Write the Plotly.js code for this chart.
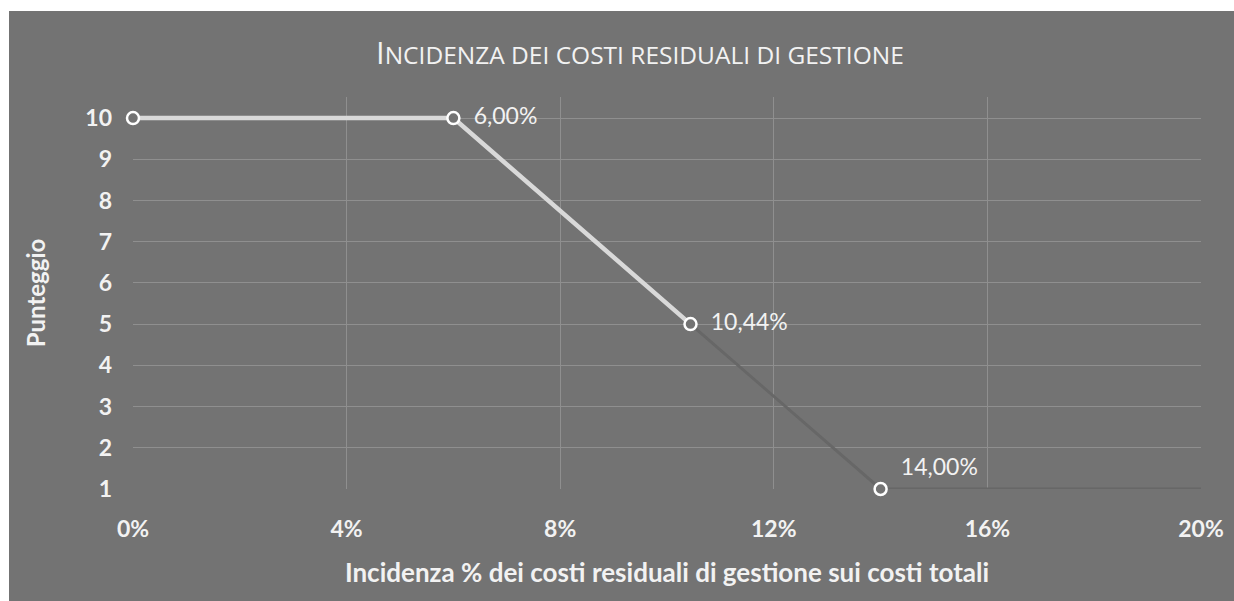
<!DOCTYPE html>
<html>
<head>
<meta charset="utf-8">
<script src="https://cdn.plot.ly/plotly-3.0.1.min.js"></script>
<style>
  html, body { margin: 0; padding: 0; background: #ffffff; }
  #chart { position: absolute; left: 9px; top: 11px; width: 1225px; height: 590px; }
</style>
</head>
<body>
<div id="chart"></div>
<script>
// Data
const lightX = [0, 6, 10.44];
const lightY = [10, 10, 5];
const darkX = [10.44, 14, 20];
const darkY = [5, 1, 1];
const pointX = [0, 6, 10.44, 14];
const pointY = [10, 10, 5, 1];
const pointLabels = ["", "6,00%", "10,44%", "14,00%"];
const labelPositions = ["middle right", "middle right", "middle right", "top right"];
const xTickVals = [0, 4, 8, 12, 16, 20];
const xTickText = ["0%", "4%", "8%", "12%", "16%", "20%"];
const yTickVals = [1, 2, 3, 4, 5, 6, 7, 8, 9, 10];

const titleFirst = "I";
const titleRest = "NCIDENZA DEI COSTI RESIDUALI DI GESTIONE";
const xTitle = "Incidenza % dei costi residuali di gestione sui costi totali";
const yTitle = "Punteggio";

const bg = "#737373";
const txt = "#f2f2f2";
const fontFam = "Lato, 'Open Sans', sans-serif";
const pad = "\u00a0\u00a0";

const traces = [
  {
    x: darkX, y: darkY, mode: "lines", type: "scatter",
    line: { color: "#676767", width: 3 }, hoverinfo: "skip", cliponaxis: false
  },
  {
    x: lightX, y: lightY, mode: "lines", type: "scatter",
    line: { color: "#d9d9d9", width: 4.5 }, hoverinfo: "skip", cliponaxis: false
  },
  {
    x: pointX, y: pointY, mode: "markers+text", type: "scatter",
    text: pointLabels.map(t => t ? pad + t : t), textposition: labelPositions,
    textfont: { family: fontFam, size: 23, color: txt },
    marker: { symbol: "circle", size: 12, color: bg, line: { color: "#ffffff", width: 2.5 } },
    cliponaxis: false
  }
];

const layout = {
  width: 1225, height: 590,
  paper_bgcolor: bg, plot_bgcolor: bg,
  showlegend: false,
  margin: { l: 123.5, r: 33, t: 86, b: 112 },
  title: {
    text: "<span style='font-size:31px'>" + titleFirst + "</span>" + titleRest,
    x: 0.515, xanchor: "center", y: 0.925, yanchor: "middle",
    font: { family: "'Open Sans', sans-serif", size: 24.5, color: txt }
  },
  xaxis: {
    range: [0, 20], tickvals: xTickVals, ticktext: xTickText,
    showgrid: true, gridcolor: "#8f8f8f", gridwidth: 1,
    zeroline: false, showline: false,
    ticks: "", ticklabelstandoff: 24,
    tickfont: { family: fontFam, size: 23, color: txt, weight: 700 },
    title: { text: xTitle, standoff: 22, font: { family: fontFam, size: 26, color: txt, weight: 700 } }
  },
  yaxis: {
    range: [1, 10.51], tickvals: yTickVals,
    showgrid: true, gridcolor: "#8f8f8f", gridwidth: 1,
    zeroline: false, showline: false,
    ticks: "", ticklabelstandoff: 20,
    tickfont: { family: fontFam, size: 23, color: txt, weight: 700 },
    title: { text: yTitle, standoff: 32, font: { family: fontFam, size: 24, color: txt, weight: 700 } }
  }
};

Plotly.newPlot("chart", traces, layout, { displayModeBar: false, staticPlot: true });
</script>
</body>
</html>
